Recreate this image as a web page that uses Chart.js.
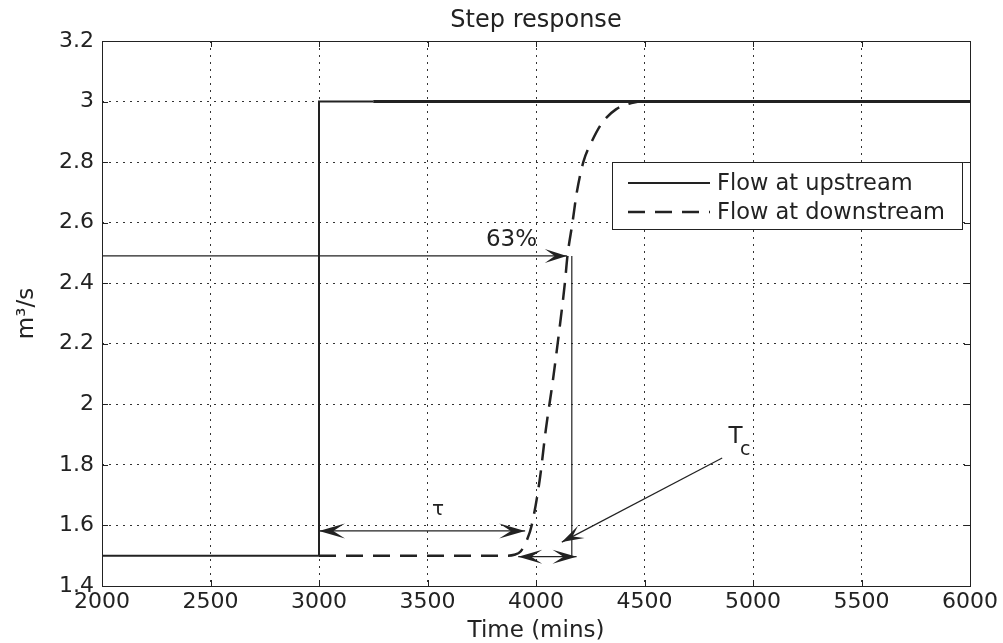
<!DOCTYPE html>
<html>
<head>
<meta charset="utf-8">
<script src="https://cdn.jsdelivr.net/npm/chart.js@4.4.0/dist/chart.umd.min.js"></script>
<style>
html, body { margin: 0; padding: 0; background: #fff; }
#wrap { position: relative; width: 1003px; height: 643px; }
</style>
</head>
<body>
<div id="wrap"><canvas id="step-chart" width="1003" height="643"></canvas></div>
<script>
// Step response data (time in mins, flow in m3/s)
const upstreamTime = [2000, 3000, 3000, 3250, 6000];
const upstreamFlow = [1.5, 1.5, 3.0, 3.0, 3.0];

const downstreamTime = [3000, 3860, 3900, 3930, 3960, 3980, 4017, 4045, 4078, 4110, 4133, 4145, 4168, 4188, 4218, 4255, 4305, 4370, 4440, 4500, 6000];
const downstreamFlow = [1.5, 1.5, 1.503, 1.515, 1.555, 1.6, 1.75, 1.915, 2.08, 2.26, 2.40, 2.49, 2.6, 2.7, 2.8, 2.865, 2.93, 2.975, 2.995, 3.0, 3.0];

const seriesLabels = ['Flow at upstream', 'Flow at downstream'];
const chartTitle = 'Step response';

const xTicks = [2000, 2500, 3000, 3500, 4000, 4500, 5000, 5500, 6000];
const yTicks = [1.4, 1.6, 1.8, 2.0, 2.2, 2.4, 2.6, 2.8, 3.0, 3.2];

// Annotation anchors (data units)
const pctLevel = 2.49;
const pctTime = 4142;
const tcLineTime = 4165;
const delayArrow = [3000, 3950, 1.582];
const tcArrow = [3918, 4187, 1.497];
const tcPointer = [4858, 1.823, 4119, 1.545];

const ink = '#222';
const font = 'DejaVu Sans';

function toPoints(xs, ys) {
    return xs.map((v, i) => ({ x: v, y: ys[i] }));
}

function line(ctx, x0, y0, x1, y1) {
    ctx.beginPath();
    ctx.moveTo(x0, y0);
    ctx.lineTo(x1, y1);
    ctx.stroke();
}

// filled arrow head with a notched back, tip at (x1, y1)
function arrowHead(ctx, x0, y0, x1, y1, len, half) {
    const ang = Math.atan2(y1 - y0, x1 - x0);
    ctx.save();
    ctx.translate(x1, y1);
    ctx.rotate(ang);
    ctx.beginPath();
    ctx.moveTo(0, 0);
    ctx.lineTo(-len, -half);
    ctx.lineTo(-len * 0.55, 0);
    ctx.lineTo(-len, half);
    ctx.closePath();
    ctx.fill();
    ctx.restore();
}

const decorations = {
    id: 'decorations',
    afterDatasetsDraw(chart) {
        const { ctx, chartArea: a, scales: { x, y } } = chart;
        ctx.save();
        ctx.strokeStyle = ink;
        ctx.fillStyle = ink;
        ctx.setLineDash([]);

        // title, centred over the axes
        ctx.font = '24px "' + font + '"';
        ctx.textAlign = 'center';
        ctx.textBaseline = 'alphabetic';
        ctx.fillText(chartTitle, (a.left + a.right) / 2, a.top - 14);

        // axes box
        ctx.lineWidth = 1;
        ctx.strokeRect(a.left + 0.5, a.top + 0.5, a.right - a.left, a.bottom - a.top);

        // inward tick marks
        xTicks.forEach(v => {
            const px = Math.round(x.getPixelForValue(v)) + 0.5;
            line(ctx, px, a.bottom, px, a.bottom - 6);
            line(ctx, px, a.top, px, a.top + 6);
        });
        yTicks.forEach(v => {
            const py = Math.round(y.getPixelForValue(v)) + 0.5;
            line(ctx, a.left, py, a.left + 6, py);
            line(ctx, a.right, py, a.right - 6, py);
        });

        // 63% arrow
        ctx.lineWidth = 1.2;
        const py63 = y.getPixelForValue(pctLevel);
        const px63 = x.getPixelForValue(pctTime);
        line(ctx, a.left, py63, px63, py63);
        arrowHead(ctx, a.left, py63, px63, py63, 22, 7);
        ctx.font = '23px "' + font + '"';
        ctx.textAlign = 'right';
        ctx.fillText('63%', x.getPixelForValue(4005), y.getPixelForValue(2.524));

        // vertical guide down to the time constant arrow
        const pxTc = x.getPixelForValue(tcLineTime);
        line(ctx, pxTc, py63, pxTc, y.getPixelForValue(tcArrow[2]));

        // delay (tau) double arrow
        const dy = y.getPixelForValue(delayArrow[2]);
        const dx0 = x.getPixelForValue(delayArrow[0]);
        const dx1 = x.getPixelForValue(delayArrow[1]);
        line(ctx, dx0, dy, dx1, dy);
        arrowHead(ctx, dx1, dy, dx0, dy, 26, 7.5);
        arrowHead(ctx, dx0, dy, dx1, dy, 26, 7.5);
        ctx.textAlign = 'center';
        ctx.font = '20px "' + font + '"';
        ctx.fillText('τ', x.getPixelForValue(3548), y.getPixelForValue(1.635));

        // time constant double arrow
        const ty = y.getPixelForValue(tcArrow[2]);
        const tx0 = x.getPixelForValue(tcArrow[0]);
        const tx1 = x.getPixelForValue(tcArrow[1]);
        line(ctx, tx0, ty, tx1, ty);
        arrowHead(ctx, tx1, ty, tx0, ty, 24, 7);
        arrowHead(ctx, tx0, ty, tx1, ty, 24, 7);

        // Tc pointer
        const qx0 = x.getPixelForValue(tcPointer[0]);
        const qy0 = y.getPixelForValue(tcPointer[1]);
        const qx1 = x.getPixelForValue(tcPointer[2]);
        const qy1 = y.getPixelForValue(tcPointer[3]);
        line(ctx, qx0, qy0, qx1, qy1);
        arrowHead(ctx, qx0, qy0, qx1, qy1, 22, 7);
        ctx.font = '23px "' + font + '"';
        ctx.fillText('T', x.getPixelForValue(4920), y.getPixelForValue(1.873));
        ctx.textAlign = 'left';
        ctx.font = '19px "' + font + '"';
        ctx.fillText('c', x.getPixelForValue(4940), y.getPixelForValue(1.833));

        // legend box
        const lx = a.right - 358, ly = a.top + 121, lw = 350, lh = 67;
        ctx.fillStyle = '#fff';
        ctx.fillRect(lx, ly, lw, lh);
        ctx.lineWidth = 1;
        ctx.strokeRect(lx + 0.5, ly + 0.5, lw, lh);
        ctx.fillStyle = ink;
        ctx.font = '22.5px "' + font + '"';
        ctx.textAlign = 'left';
        ctx.textBaseline = 'middle';
        chart.data.datasets.forEach((ds, i) => {
            const rowY = ly + 21 + i * 29;
            ctx.lineWidth = ds.borderWidth;
            ctx.setLineDash(ds.borderDash || []);
            line(ctx, lx + 16, rowY, lx + 98, rowY);
            ctx.setLineDash([]);
            ctx.fillText(ds.label, lx + 105, rowY + 1);
        });
        ctx.restore();
    }
};

const ctx = document.getElementById('step-chart');

new Chart(ctx.getContext('2d'), {
    type: 'line',
    data: {
        datasets: [{
            label: seriesLabels[0],
            data: toPoints(upstreamTime, upstreamFlow),
            borderColor: ink,
            borderWidth: 2,
            pointRadius: 0,
            tension: 0,
            fill: false,
            segment: {
                borderWidth: c => c.p0.parsed.x >= 3250 ? 3 : 2
            }
        }, {
            label: seriesLabels[1],
            data: toPoints(downstreamTime, downstreamFlow),
            borderColor: ink,
            borderWidth: 2.5,
            borderDash: [17, 10],
            pointRadius: 0,
            cubicInterpolationMode: 'monotone',
            fill: false
        }]
    },
    options: {
        responsive: false,
        animation: false,
        devicePixelRatio: 1,
        layout: {
            padding: { top: 41, right: 33, bottom: 0, left: 0 }
        },
        plugins: {
            legend: { display: false },
            tooltip: { enabled: false },
            title: { display: false }
        },
        scales: {
            x: {
                type: 'linear',
                min: 2000,
                max: 6000,
                afterBuildTicks: scale => { scale.ticks = xTicks.map(v => ({ value: v })); },
                afterFit: scale => { scale.height = 57; },
                grid: {
                    color: '#333',
                    lineWidth: 1,
                    drawTicks: false
                },
                border: { display: false, dash: [2, 5] },
                ticks: {
                    color: ink,
                    font: { family: font, size: 22 },
                    padding: 3,
                    autoSkip: false,
                    maxRotation: 0,
                    callback: v => String(v)
                },
                title: {
                    display: true,
                    text: 'Time (mins)',
                    color: ink,
                    font: { family: font, size: 23, lineHeight: 1 },
                    padding: 0
                }
            },
            y: {
                type: 'linear',
                min: 1.4,
                max: 3.2,
                afterBuildTicks: scale => { scale.ticks = yTicks.map(v => ({ value: v })); },
                afterFit: scale => { scale.width = 102; },
                grid: {
                    color: '#333',
                    lineWidth: 1,
                    drawTicks: false
                },
                border: { display: false, dash: [2, 5] },
                ticks: {
                    color: ink,
                    font: { family: font, size: 22 },
                    padding: 8,
                    callback: v => String(+v.toFixed(1))
                },
                title: {
                    display: true,
                    text: 'm³/s',
                    color: ink,
                    font: { family: font, size: 23, lineHeight: 1 },
                    padding: { top: 16, bottom: 0 }
                }
            }
        }
    },
    plugins: [decorations]
});
</script>
</body>
</html>
